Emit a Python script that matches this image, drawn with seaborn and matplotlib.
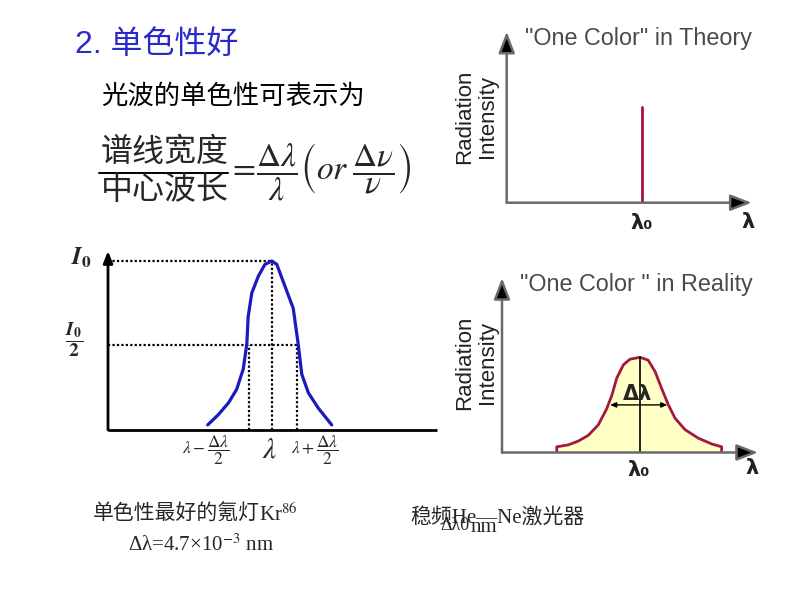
import numpy as np
import pandas as pd
import matplotlib
matplotlib.use('Agg')
import matplotlib.pyplot as plt
import seaborn as sns
from matplotlib.lines import Line2D

# ---------------- data ----------------
# left panel: measured spectral line (normalised intensity vs wavelength units)
spec_x = [3.03, 3.35, 3.66, 3.91, 4.11, 4.22, 4.26, 4.37, 4.57, 4.77, 4.98,
          5.13, 5.38, 5.63, 5.78, 5.89, 6.09, 6.39, 6.80]
spec_y = [0.03, 0.09, 0.16, 0.24, 0.36, 0.51, 0.67, 0.81, 0.91, 0.98, 1.00,
          0.98, 0.85, 0.72, 0.51, 0.33, 0.22, 0.13, 0.03]
peak_x, peak_y = 4.98, 1.0
half_y = 0.5
half_left, half_right = 4.29, 5.74
tick_pos = [2.97, 4.92, 6.29]
tick_labels = [r'$\lambda-\dfrac{\Delta\lambda}{2}$', r'$\lambda$',
               r'$\lambda+\dfrac{\Delta\lambda}{2}$']

# right top: ideal monochromatic line
theory_x = [5.53, 5.53]
theory_y = [0.0, 1.0]

# right bottom: real line profile
real_x = [2.14, 2.14, 2.59, 2.98, 3.37, 3.76, 4.09, 4.29, 4.48, 4.74, 5.00, 5.39,
          5.71, 5.98, 6.24, 6.50, 6.76, 7.15, 7.67, 8.19, 8.58, 8.58]
real_y = [0.0, 0.06, 0.08, 0.12, 0.18, 0.29, 0.46, 0.60, 0.78, 0.92, 0.98, 1.00,
          0.97, 0.85, 0.67, 0.50, 0.36, 0.24, 0.15, 0.09, 0.06, 0.0]
real_center = 5.39
dl_left, dl_right, dl_y = 4.22, 6.46, 0.50

# ---------------- style ----------------
sns.set_style('white')
plt.rcParams['mathtext.fontset'] = 'stix'
plt.rcParams['font.family'] = ['Liberation Sans', 'Noto Sans CJK SC', 'DejaVu Sans']

W, H = 794, 596
fig = plt.figure(figsize=(W / 100, H / 100), dpi=100)
fig.patch.set_facecolor('white')


def px_axes(x0, y0, x1, y1, z=1):
    ax = fig.add_axes([x0 / W, 1 - y1 / H, (x1 - x0) / W, (y1 - y0) / H], zorder=z)
    ax.set_axis_off()
    ax.patch.set_alpha(0)
    return ax


def axis_arrows(ax, ec, fc, lw, hl, hw, xarrow=True):
    style = f'-|>,head_length={hl},head_width={hw}'
    ax.annotate('', xy=(0, 1), xytext=(0, 0), xycoords='axes fraction',
                arrowprops=dict(arrowstyle=style, ec=ec, fc=fc, lw=lw,
                                shrinkA=0, shrinkB=0))
    if xarrow:
        ax.annotate('', xy=(1, 0), xytext=(0, 0), xycoords='axes fraction',
                    arrowprops=dict(arrowstyle=style, ec=ec, fc=fc, lw=lw,
                                    shrinkA=0, shrinkB=0))
    else:
        ax.plot([0, 1], [0, 0], transform=ax.transAxes, color=ec, lw=lw,
                clip_on=False, solid_capstyle='butt')


# overlay in pixel coordinates for free text
ov = px_axes(0, 0, W, H, z=5)
ov.set_xlim(0, W)
ov.set_ylim(H, 0)

# ---------------- left panel ----------------
axL = px_axes(108, 251, 437, 430)
axL.set_xlim(0, 10)
axL.set_ylim(0, 1.059)
axis_arrows(axL, 'black', 'black', 2.0, 0.7, 0.28, xarrow=False)
dot = (0, (1, 1))
axL.plot([0, peak_x], [peak_y, peak_y], ls=dot, color='black', lw=1.6)
axL.plot([0, half_right], [half_y, half_y], ls=dot, color='black', lw=1.6)
axL.plot([peak_x, peak_x], [0, peak_y], ls=dot, color='black', lw=1.6)
axL.plot([half_left, half_left], [0, half_y], ls=dot, color='black', lw=1.6)
axL.plot([half_right, half_right], [0, half_y], ls=dot, color='black', lw=1.6)
sns.lineplot(x=spec_x, y=spec_y, ax=axL, color='#1a1abf', lw=2.3,
             estimator=None, sort=False, legend=False)
for p, lab in zip(tick_pos, tick_labels):
    fs = 21 if lab == r'$\lambda$' else 12.5
    axL.text(p, -0.118, lab, ha='center', va='center', fontsize=fs, clip_on=False)

ov.text(82, 258, r'$\mathbfit{I}_{\mathbf{0}}$', ha='center', va='center', fontsize=18)
ov.text(74, 340, r'$\dfrac{\mathbfit{I}_{\mathbf{0}}}{\mathbf{2}}$', ha='center',
        va='center', fontsize=14)

# ---------------- right top ----------------
axT = px_axes(506.7, 31.7, 751.7, 202.7)
axT.set_xlim(0, 10)
axT.set_ylim(0, 1.79)
sns.lineplot(x=theory_x, y=theory_y, ax=axT, color='#a3103c', lw=2.0,
             estimator=None, sort=False, legend=False)
axis_arrows(axT, '#6a6a6a', 'black', 1.8, 1.3, 0.5)

# ---------------- right bottom ----------------
axB = px_axes(502, 278, 758, 452.5)
axB.set_xlim(0, 10)
axB.set_ylim(0, 1.833)
axB.fill_between(real_x, 0, real_y, color='#ffffc6', lw=0)
sns.lineplot(x=real_x, y=real_y, ax=axB, color='#a3183f', lw=2.0,
             estimator=None, sort=False, legend=False)
axB.plot([real_center, real_center], [0, 1.0], color='black', lw=1.2)
axB.annotate('', xy=(dl_right, dl_y), xytext=(dl_left, dl_y),
             arrowprops=dict(arrowstyle='<|-|>,head_length=0.35,head_width=0.15',
                             color='black', lw=1.0, shrinkA=0, shrinkB=0))
axB.text(5.31, 0.61, 'Δλ', ha='center', va='center', fontsize=15,
         fontweight='bold', family='DejaVu Sans')
axis_arrows(axB, '#6a6a6a', 'black', 1.8, 1.3, 0.5)

# ---------------- texts ----------------
blue = '#2a2ac8'
ov.text(75, 45, '2. 单色性好', ha='left', va='center', fontsize=23, color=blue)
ov.text(101, 96, '光波的单色性可表示为', ha='left', va='center', fontsize=19,
        color='black')
ov.text(101, 153, '谱线宽度', ha='left', va='center', fontsize=23)
ov.text(101, 191, '中心波长', ha='left', va='center', fontsize=23)
ov.add_line(Line2D([99, 228], [172.7, 172.7], color='black', lw=1.4))
ov.text(228, 172, r'$=\!\dfrac{\Delta\lambda}{\lambda}\left(or\;\dfrac{\Delta\nu}{\nu}\right)$',
        ha='left', va='center', fontsize=24)

gray = '#4a4a4a'
ov.text(525, 38, '"One Color" in Theory', ha='left', va='center', fontsize=16.8, color=gray)
ov.text(520, 285, '"One Color " in Reality', ha='left', va='center', fontsize=16.8, color=gray)
for yc in (117, 363):
    ov.text(465, yc, 'Radiation', rotation=90, ha='center', va='center',
            fontsize=16, color='#222222')
    ov.text(487, yc, 'Intensity', rotation=90, ha='center', va='center',
            fontsize=16, color='#222222')

lam_kw = dict(ha='center', va='center', fontsize=15, fontweight='bold',
              family='DejaVu Sans', color='#222222')
ov.text(642, 223, 'λ₀', **lam_kw)
ov.text(748, 222, 'λ', **lam_kw)
ov.text(639, 470, 'λ₀', **lam_kw)
ov.text(752, 468, 'λ', **lam_kw)

serif = ['Liberation Serif', 'Noto Sans CJK SC']
ov.text(93, 515, '单色性最好的氪灯', ha='left', va='center', fontsize=15,
        family=serif)
ov.text(259, 515, 'Kr$^{86}$', ha='left', va='center', fontsize=15, family=serif)
ov.text(128, 545, 'Δλ=4.7×10$^{-3}$ nm', ha='left', va='center', fontsize=15,
        family=serif)
ov.text(410, 518, '稳频He—Ne激光器', ha='left', va='center', fontsize=15,
        family=serif)
ov.text(440, 526, 'Δλ0', ha='left', va='center', fontsize=13, family=serif)
ov.text(471, 527, 'nm', ha='left', va='center', fontsize=15, family=serif)

fig.savefig('out.png', dpi=100)
